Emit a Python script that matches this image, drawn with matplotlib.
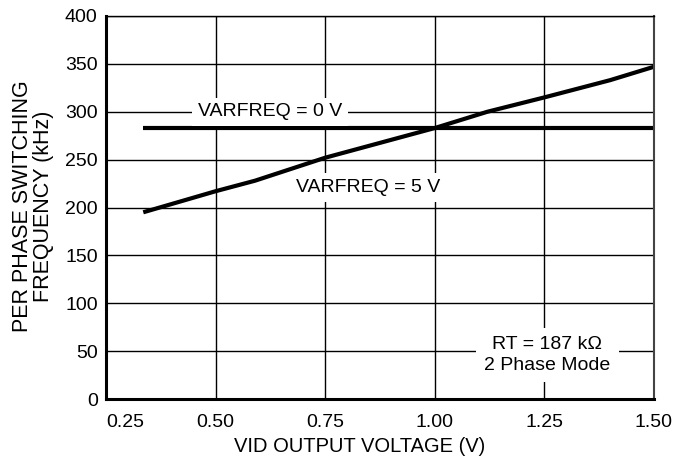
import matplotlib.pyplot as plt
import numpy as np

plt.rcParams['font.family'] = ['Liberation Sans', 'DejaVu Sans']

# VARFREQ = 0 V (flat)
vid_0v = [0.335, 1.50]
freq_0v = [283, 283]

# VARFREQ = 5 V (rises with VID)
vid_5v = [0.335, 0.50, 0.59, 0.75, 1.00, 1.12, 1.25, 1.40, 1.50]
freq_5v = [195, 217, 228, 252, 283, 300, 315, 333, 347]

xticks = [0.25, 0.50, 0.75, 1.00, 1.25, 1.50]
xticklabels = ["0.25", "0.50", "0.75", "1.00", "1.25", "1.50"]
yticks = [0, 50, 100, 150, 200, 250, 300, 350, 400]

fs = 14

fig = plt.figure(figsize=(6.78, 4.66), dpi=100)
ax = fig.add_axes([106/678, 1-399/466, 548/678, 383/466])

ax.set_xlim(0.25, 1.50)
ax.set_ylim(0, 400)
ax.set_xticks(xticks)
ax.set_xticklabels(xticklabels)
ax.set_yticks(yticks)
ax.grid(True, color='black', linewidth=1.0)
ax.tick_params(length=0, labelsize=fs)
ax.tick_params(axis='x', pad=11)
ax.tick_params(axis='y', pad=6)
for lab in ax.get_xticklabels():
    if lab.get_text() == "0.25":
        lab.set_horizontalalignment('left')

for s in ['left', 'bottom']:
    ax.spines[s].set_linewidth(2.2)
ax.spines['top'].set_linewidth(1.0)
ax.spines['right'].set_linewidth(1.5)
ax.spines['right'].set_color('#444444')

ax.plot(vid_0v, freq_0v, color='black', linewidth=3.0, solid_capstyle='butt')
ax.plot(vid_5v, freq_5v, color='black', linewidth=3.0, solid_capstyle='butt')

box = dict(facecolor='white', edgecolor='none', pad=4)
ax.text(0.624, 300, "VARFREQ = 0 V", fontsize=fs, ha='center', va='center', bbox=box)
ax.text(0.848, 221, "VARFREQ = 5 V", fontsize=fs, ha='center', va='center', bbox=box)
ax.text(1.256, 46, "RT = 187 k\u03a9\n2 Phase Mode", fontsize=fs, ha='center', va='center',
        linespacing=1.3, bbox=dict(facecolor='white', edgecolor='none', pad=6))

fig.text(360/678, 1-447/466, "VID OUTPUT VOLTAGE (V)", fontsize=14.5, ha='center', va='center')
fig.text(33/678, 1-206/466, "PER PHASE SWITCHING\nFREQUENCY (kHz)", fontsize=15.5,
         rotation=90, ha='center', va='center', multialignment='center', linespacing=1.0)

fig.savefig("out.png", dpi=100)
